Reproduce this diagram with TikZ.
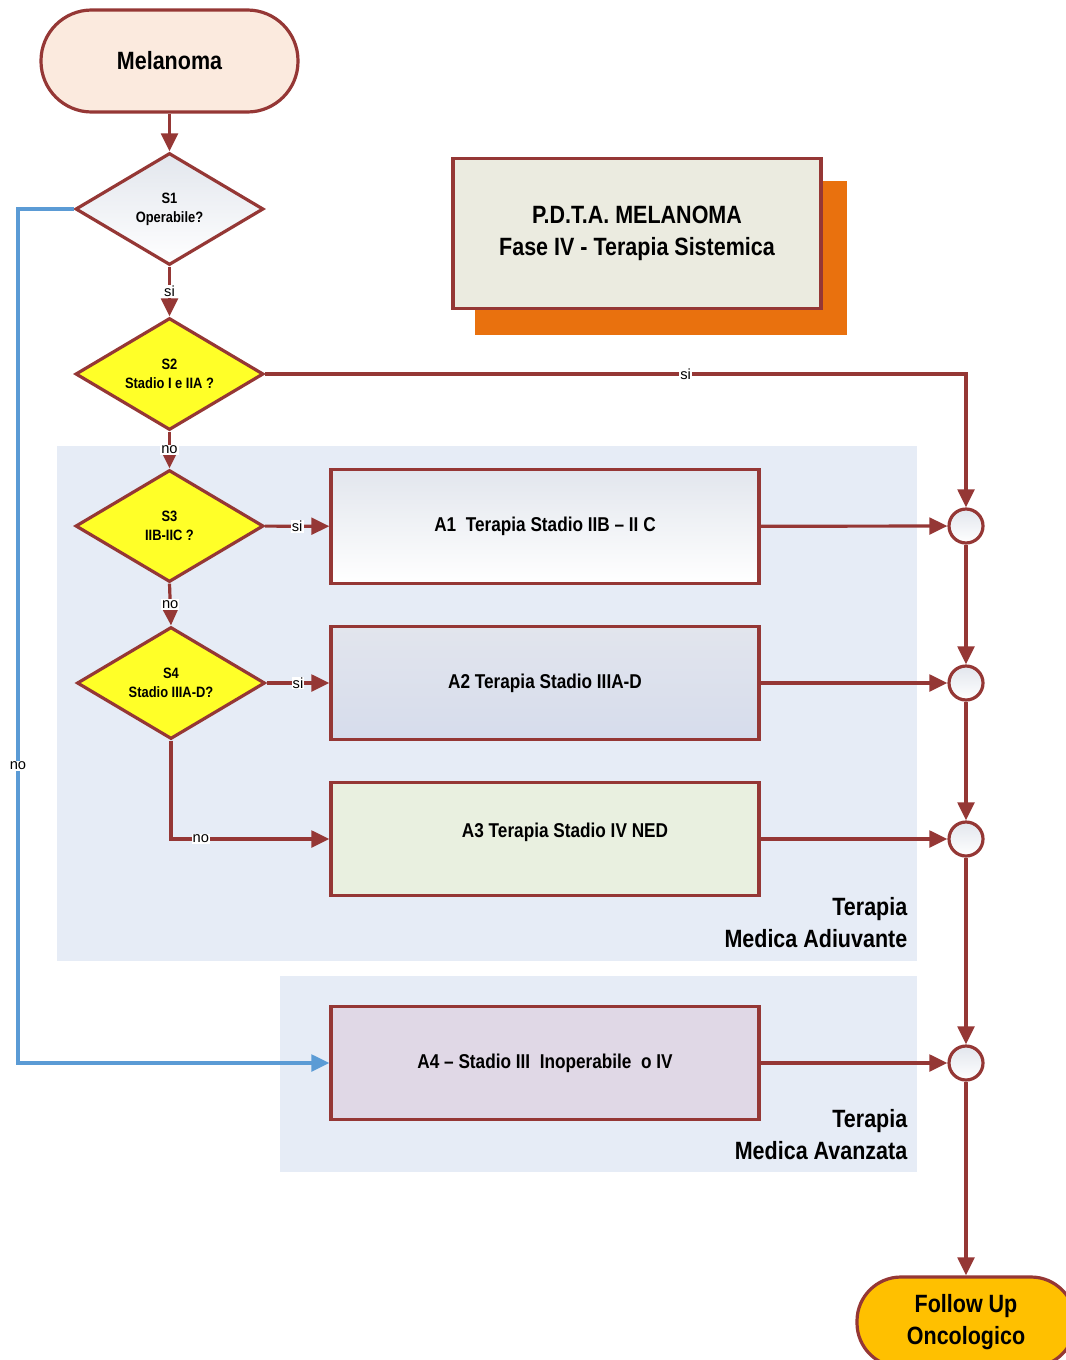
\documentclass[tikz,border=0pt]{standalone}
\usepackage{fontspec}
\setmainfont[FakeStretch=0.86]{Liberation Sans}
\newfontfamily\plainsans{Liberation Sans}
\usetikzlibrary{shapes.geometric,arrows.meta}

\definecolor{edgered}{RGB}{149,55,53}
\definecolor{flowblue}{RGB}{91,155,213}
\definecolor{zone}{RGB}{230,236,246}
\definecolor{peach}{RGB}{251,234,222}
\definecolor{titlefill}{RGB}{235,235,224}
\definecolor{titleshadow}{RGB}{233,113,14}
\definecolor{gold}{RGB}{255,192,0}
\definecolor{qyellow}{RGB}{255,255,40}
\definecolor{greytop}{RGB}{226,230,237}
\definecolor{bluetop}{RGB}{226,229,237}
\definecolor{bluebot}{RGB}{214,220,236}
\definecolor{greenfill}{RGB}{233,240,224}
\definecolor{lilacfill}{RGB}{224,216,230}

\tikzset{
  terminal/.style={draw=edgered, line width=2.4pt, align=center,
    font=\bfseries\fontsize{18.75}{24}\selectfont},
  decision/.style={diamond, draw=edgered, line width=2.4pt, aspect=1.68,
    minimum width=141pt, minimum height=84pt, inner sep=0pt, align=center,
    font=\bfseries\fontsize{11.25}{14.25}\selectfont},
  process/.style={rectangle, draw=edgered, line width=2.4pt,
    minimum width=321pt, minimum height=85pt,
    font=\bfseries\fontsize{15}{18}\selectfont},
  junction/.style={circle, draw=edgered, line width=2.4pt, minimum size=25.5pt,
    inner sep=0pt, top color=greytop, bottom color=white},
  flow/.style={draw=edgered, line width=2.4pt,
    -{Triangle[length=13.5pt,width=12.5pt]}},
  noflow/.style={draw=flowblue, line width=2.4pt,
    -{Triangle[length=13.5pt,width=12.5pt]}},
  lbl/.style={fill=white, inner sep=0.8pt, font=\plainsans\fontsize{11}{13}\selectfont},
  zonelabel/.style={anchor=east, align=right,
    font=\bfseries\fontsize{18.75}{24}\selectfont},
}

\begin{document}
\begin{tikzpicture}[x=0.75pt,y=-0.75pt]
\useasboundingbox (0,0) rectangle (1066,1360);

% therapy zones
\fill[zone] (57,446) rectangle (917,961);
\fill[zone] (280,976) rectangle (917,1172);
\node[zonelabel] (zadj) at (912,923) {Terapia\\Medica Adiuvante};
\node[zonelabel] (zadv) at (912,1135) {Terapia\\Medica Avanzata};

% title card with offset orange backing
\fill[titleshadow] (475,181) rectangle (847,335);
\node[draw=edgered, line width=2.4pt, fill=titlefill, minimum width=276pt,
  minimum height=113pt, align=center,
  font=\bfseries\fontsize{18.75}{24}\selectfont] (title) at (637,233.5)
  {P.D.T.A. MELANOMA\\Fase IV - Terapia Sistemica};

% start and end terminals
\node[terminal, fill=peach, minimum width=192.75pt, minimum height=76.5pt,
  rounded corners=38pt] (start) at (169.5,61) {Melanoma};
\node[terminal, fill=gold, minimum width=163.5pt, minimum height=67.5pt,
  rounded corners=33pt] (follow) at (966,1322) {Follow Up\\Oncologico};

% decisions
\node[decision, top color=greytop, bottom color=white] (s1) at (169.5,209) {S1\\Operabile?};
\node[decision, fill=qyellow] (s2) at (169.5,374) {S2\\Stadio I e IIA ?};
\node[decision, fill=qyellow] (s3) at (169.5,526) {S3\\IIB-IIC ?};
\node[decision, fill=qyellow] (s4) at (171,683) {S4\\Stadio IIIA-D?};

% therapies
\node[process, top color=greytop, bottom color=white] (a1) at (545,526.5)
  {A1\ \ Terapia Stadio IIB -- II C};
\node[process, top color=bluetop, bottom color=bluebot] (a2) at (545,683)
  {A2 Terapia Stadio IIIA-D};
\node[process, fill=greenfill] (a3) at (545,839)
  {\raisebox{13.5pt}{\hspace*{30pt}A3 Terapia Stadio IV NED}};
\node[process, fill=lilacfill] (a4) at (545,1063)
  {A4 -- Stadio III\ \ Inoperabile\ \ o IV};

% merge points
\node[junction] (j1) at (966,526) {};
\node[junction] (j2) at (966,683) {};
\node[junction] (j3) at (966,839) {};
\node[junction] (j4) at (966,1063) {};

% decision flow
\draw[flow] (start) -- (s1);
\draw[flow] (s1) -- node[lbl] {si} (s2);
\draw[flow] (s2.east) -| node[lbl, pos=0.3] {si} (j1.north);
\draw[flow] (s2) -- node[lbl] {no} (s3);
\draw[flow] (s3) -- node[lbl] {si} (a1);
\draw[flow] (s3.south) -- node[lbl] {no} (s4.north);
\draw[flow] (s4) -- node[lbl] {si} (a2);
\draw[flow] (s4.south) |- node[lbl, pos=0.594] {no} (a3.west);

\coordinate (bend) at (18,209);
\draw[noflow] (s1.west) -- (bend) |- node[lbl, pos=0.326] {no} (a4.west);

% into the merge points
\draw[flow] (a1) -- (j1);
\draw[flow] (a2) -- (j2);
\draw[flow] (a3) -- (j3);
\draw[flow] (a4) -- (j4);
\draw[flow] (j1) -- (j2);
\draw[flow] (j2) -- (j3);
\draw[flow] (j3) -- (j4);
\draw[flow] (j4) -- (follow);
\end{tikzpicture}
\end{document}
